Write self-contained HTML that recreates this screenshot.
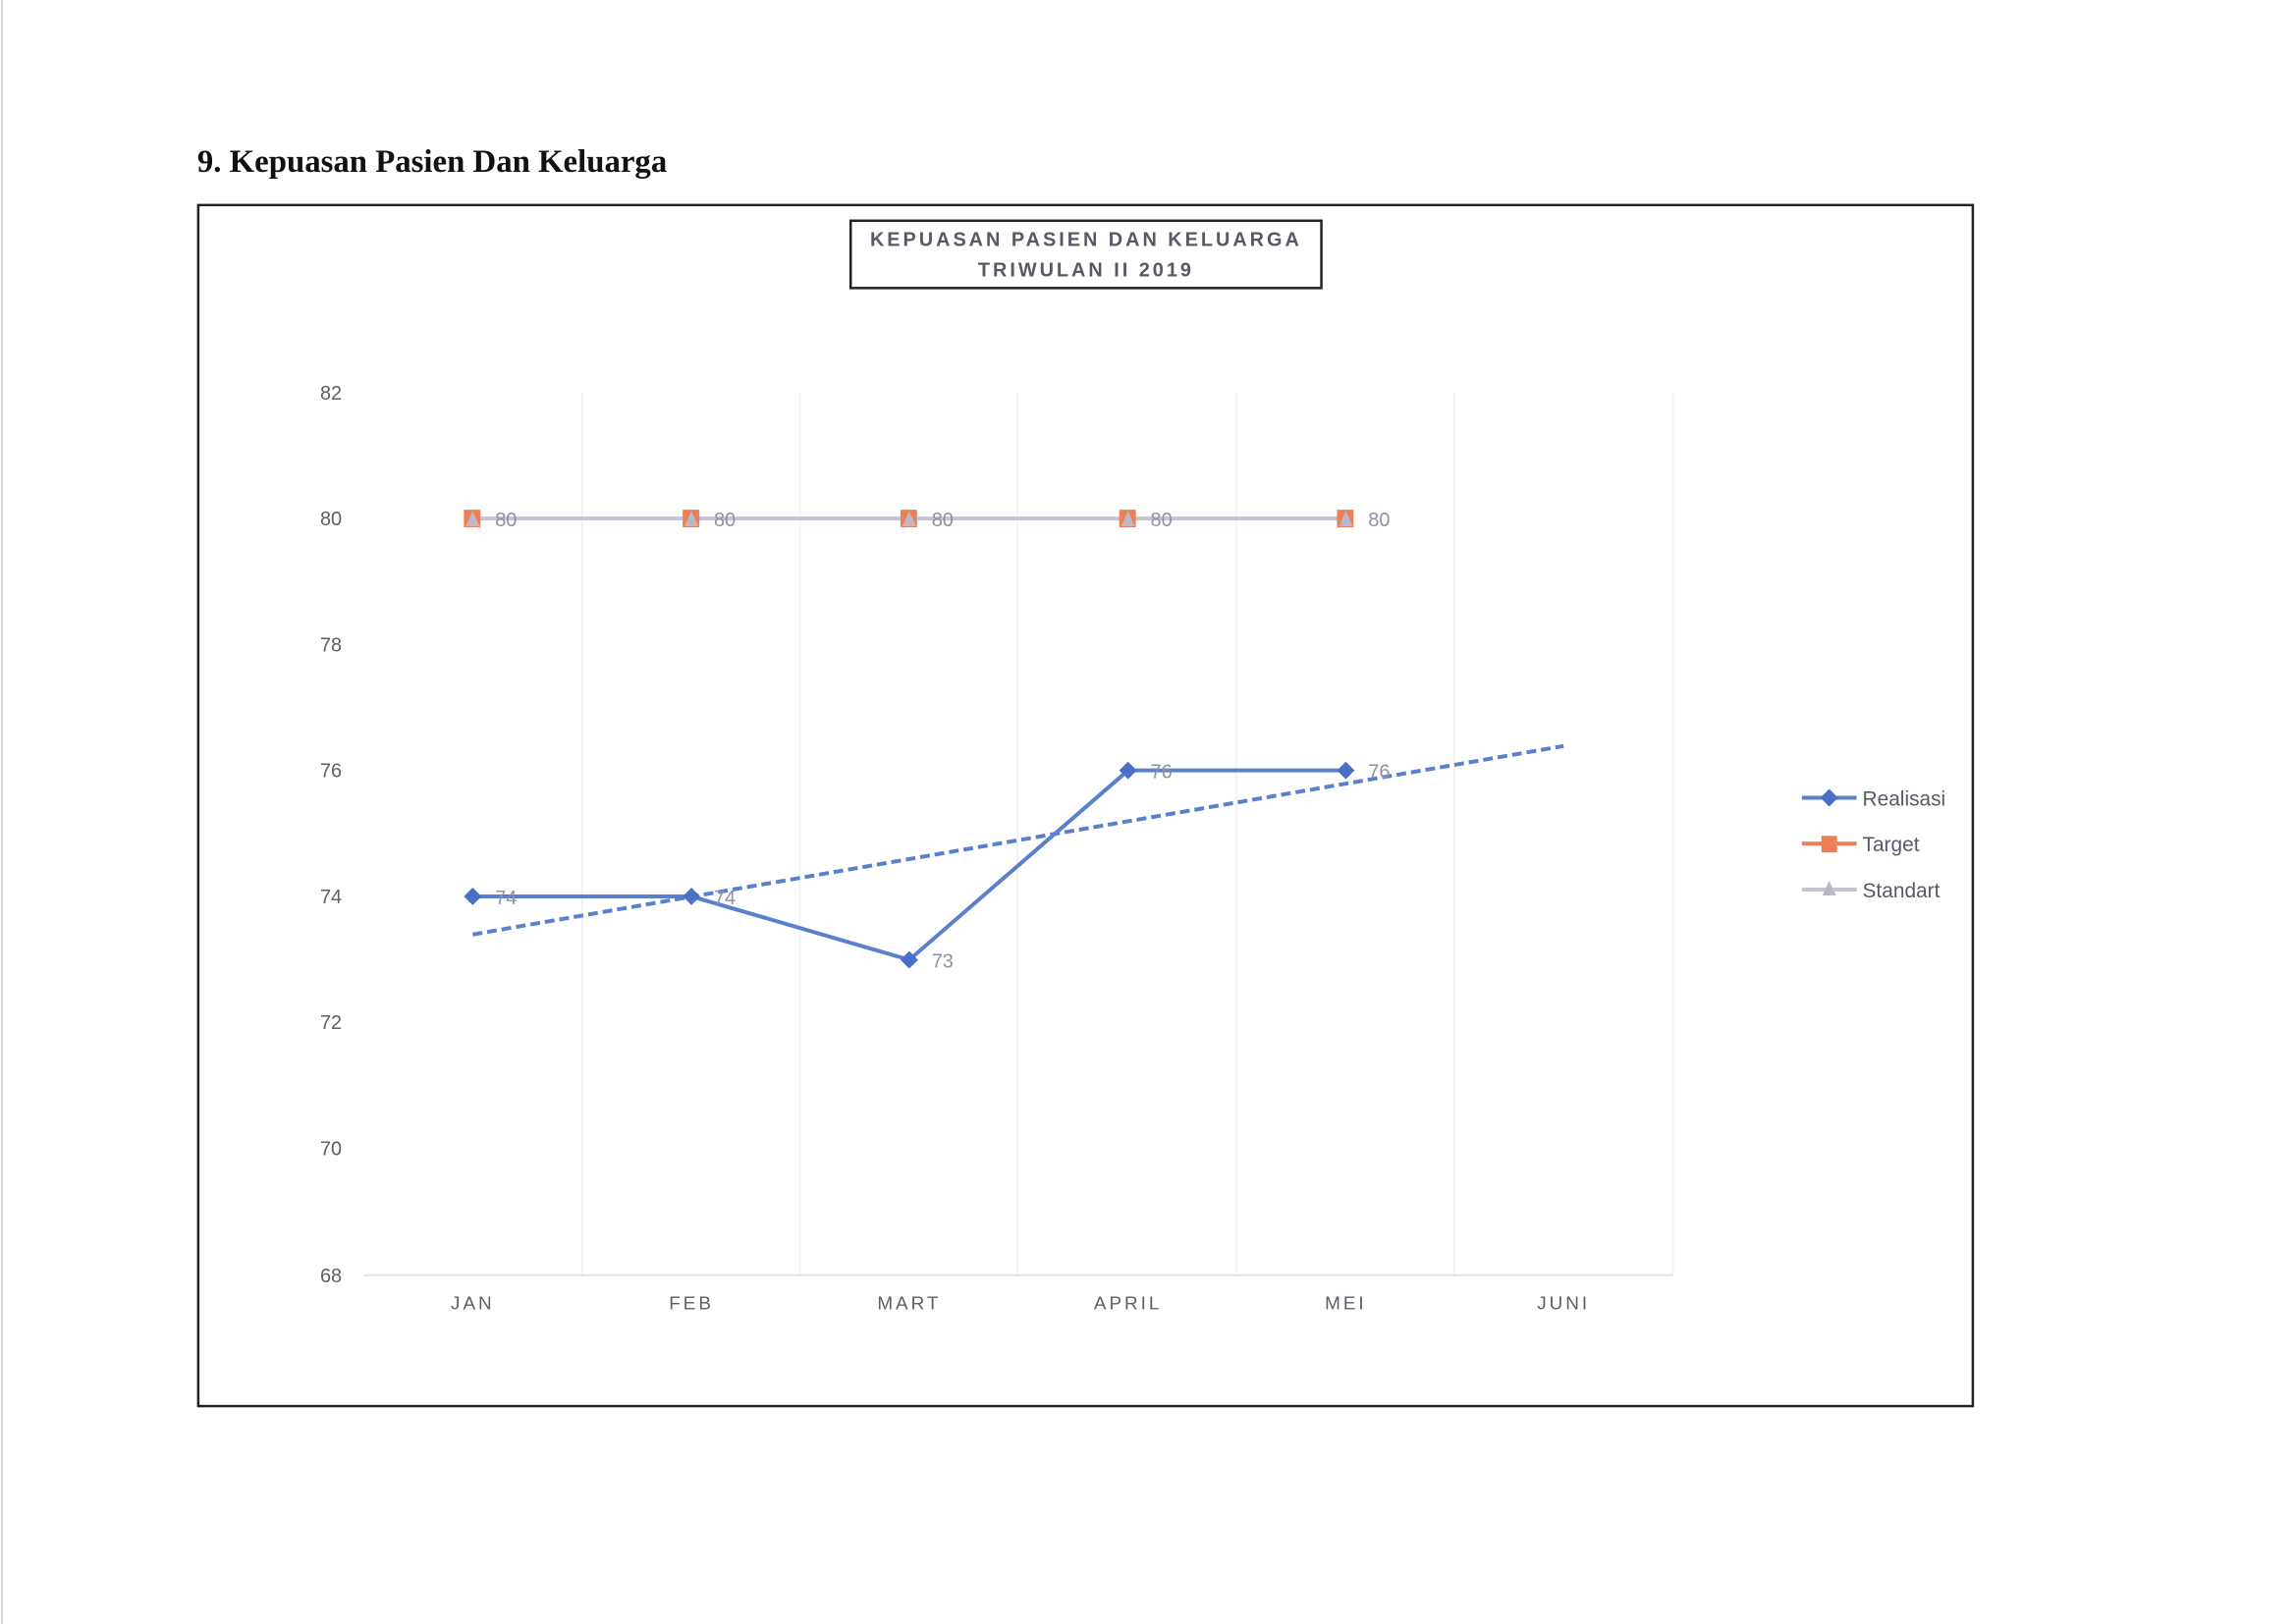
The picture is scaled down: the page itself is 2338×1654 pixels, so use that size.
<!DOCTYPE html>
<html><head><meta charset="utf-8">
<style>
html,body{margin:0;padding:0;background:#fff;}
body{width:2338px;height:1654px;overflow:hidden;position:relative;}
</style></head>
<body>
<svg width="2338" height="1654" viewBox="0 0 2338 1654" xmlns="http://www.w3.org/2000/svg" style="position:absolute;left:0;top:0">
<rect x="0" y="0" width="2338" height="1654" fill="#fff"/>
<line x1="2" y1="0" x2="2" y2="1654" stroke="#d8d8d8" stroke-width="2"/>
<g transform="scale(0.9945)">
<text x="202" y="176" font-family="Liberation Serif, serif" font-weight="bold" font-size="33" fill="#111">9. Kepuasan Pasien Dan Keluarga</text>
<rect x="203" y="210" width="1817" height="1230" fill="none" stroke="#222" stroke-width="2.5"/>
<rect x="871" y="226" width="482" height="69" fill="none" stroke="#222" stroke-width="2.5"/>
<text x="1112" y="252" text-anchor="middle" font-family="Liberation Sans, sans-serif" font-weight="bold" font-size="20" letter-spacing="3" fill="#555a66">KEPUASAN PASIEN DAN KELUARGA</text>
<text x="1112" y="283" text-anchor="middle" font-family="Liberation Sans, sans-serif" font-weight="bold" font-size="20" letter-spacing="3" fill="#555a66">TRIWULAN II 2019</text>
<g stroke="#f0f0f2" stroke-width="1.5">
<line x1="596" y1="402" x2="596" y2="1306"/><line x1="819" y1="402" x2="819" y2="1306"/>
<line x1="1042" y1="402" x2="1042" y2="1306"/><line x1="1266" y1="402" x2="1266" y2="1306"/>
<line x1="1489" y1="402" x2="1489" y2="1306"/><line x1="1713" y1="402" x2="1713" y2="1306"/>
</g>
<line x1="372" y1="1306" x2="1713" y2="1306" stroke="#e2e2e6" stroke-width="2"/>
<g font-family="Liberation Sans, sans-serif" font-size="20" fill="#5a5f6a" text-anchor="end">
<text x="350" y="409">82</text><text x="350" y="538">80</text><text x="350" y="667">78</text>
<text x="350" y="796">76</text><text x="350" y="925">74</text><text x="350" y="1054">72</text>
<text x="350" y="1183">70</text><text x="350" y="1313">68</text>
</g>
<g font-family="Liberation Sans, sans-serif" font-size="19" fill="#5a5f6a" text-anchor="middle" letter-spacing="3">
<text x="484" y="1341">JAN</text><text x="708" y="1341">FEB</text><text x="931" y="1341">MART</text>
<text x="1155" y="1341">APRIL</text><text x="1378" y="1341">MEI</text><text x="1601" y="1341">JUNI</text>
</g>
<polyline points="484,531 708,531 931,531 1155,531 1378,531" fill="none" stroke="#c3c3d3" stroke-width="4"/>
<g fill="#ee7f55">
<rect x="475" y="522" width="17" height="18"/><rect x="699" y="522" width="17" height="18"/>
<rect x="922" y="522" width="17" height="18"/><rect x="1146" y="522" width="17" height="18"/>
<rect x="1369" y="522" width="17" height="18"/>
</g>
<g fill="#b8b8c8">
<polygon points="484,523 491,539 477,539"/><polygon points="708,523 715,539 701,539"/>
<polygon points="931,523 938,539 924,539"/><polygon points="1155,523 1162,539 1148,539"/>
<polygon points="1378,523 1385,539 1371,539"/>
</g>
<g font-family="Liberation Sans, sans-serif" font-size="20" fill="#8d92a3">
<text x="507" y="539">80</text><text x="731" y="539">80</text><text x="954" y="539">80</text>
<text x="1178" y="539">80</text><text x="1401" y="539">80</text>
</g>
<line x1="484" y1="957" x2="1601" y2="764" stroke="#5b7fcf" stroke-width="4" stroke-dasharray="10,5"/>
<polyline points="484,918 708,918 931,983 1155,789 1378,789" fill="none" stroke="#5b7fcf" stroke-width="4"/>
<g fill="#4a6fc4">
<polygon points="484,909 493,918 484,927 475,918"/><polygon points="708,909 717,918 708,927 699,918"/>
<polygon points="931,974 940,983 931,992 922,983"/><polygon points="1155,780 1164,789 1155,798 1146,789"/>
<polygon points="1378,780 1387,789 1378,798 1369,789"/>
</g>
<g font-family="Liberation Sans, sans-serif" font-size="20" fill="#8d92a3">
<text x="507" y="926">74</text><text x="731" y="926">74</text><text x="954" y="991">73</text>
<text x="1178" y="797">76</text><text x="1401" y="797">76</text>
</g>
<g transform="translate(10,0)">
<line x1="1835" y1="817" x2="1891" y2="817" stroke="#5b7fcf" stroke-width="4"/>
<polygon points="1863,808 1872,817 1863,826 1854,817" fill="#4a6fc4"/>
<line x1="1835" y1="864" x2="1891" y2="864" stroke="#ee7f55" stroke-width="4"/>
<rect x="1855" y="856" width="16" height="17" fill="#ee7f55"/>
<line x1="1835" y1="911" x2="1891" y2="911" stroke="#c3c3d3" stroke-width="4"/>
<polygon points="1863,902 1870,917 1856,917" fill="#b8b8c8"/>
<g font-family="Liberation Sans, sans-serif" font-size="21" fill="#555a66">
<text x="1897" y="825">Realisasi</text><text x="1897" y="872">Target</text><text x="1897" y="919">Standart</text>
</g>
</g>
</g>
</svg>
</body></html>
